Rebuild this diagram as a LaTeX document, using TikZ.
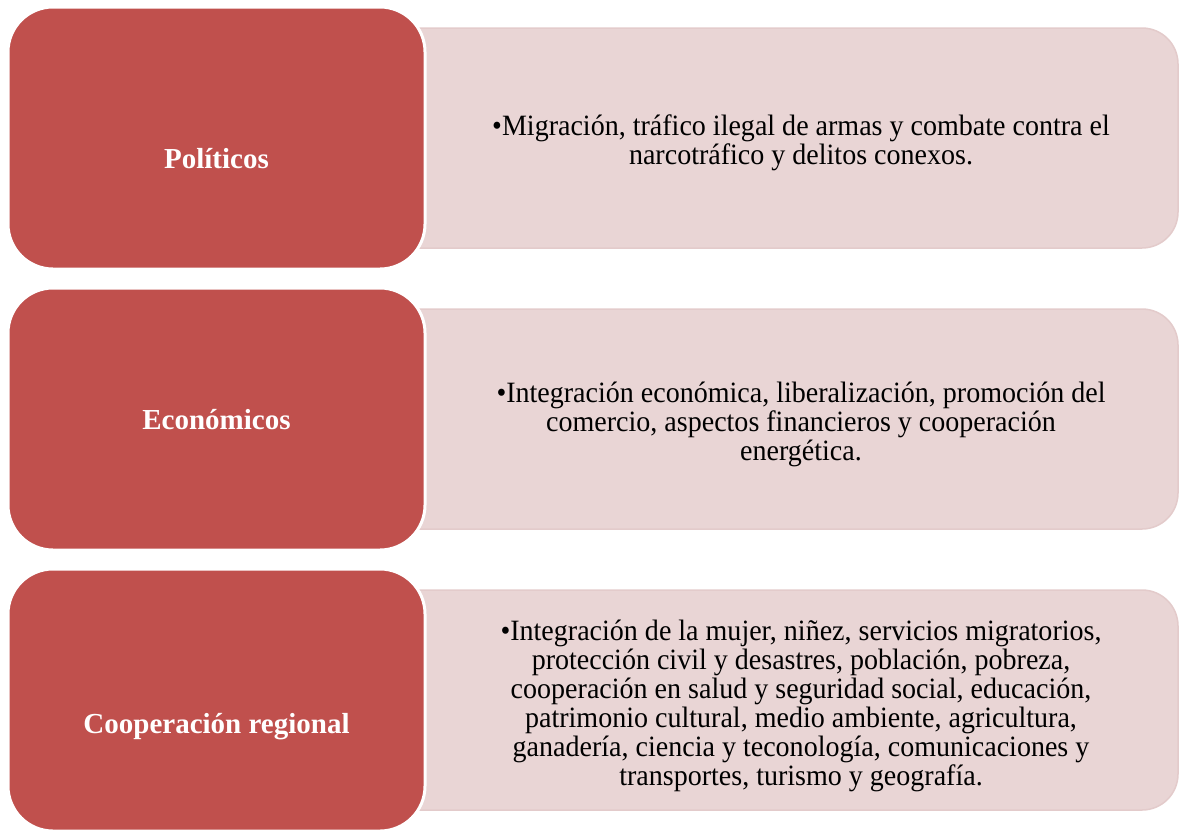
\documentclass[tikz,border=0pt]{standalone}
\usepackage{fontspec}
\setmainfont{Liberation Serif}
\newfontfamily\bodyfont[FakeStretch=0.95]{Liberation Serif}
\definecolor{redcol}{HTML}{C0504D}
\definecolor{pinkfill}{HTML}{E9D5D5}
\definecolor{pinkline}{HTML}{E3CBCB}
\begin{document}
\begin{tikzpicture}[x=1pt,y=-1pt,
  redbox/.style={draw=white, line width=3pt, fill=redcol, rounded corners=45pt,
    minimum width=417pt, minimum height=262pt, inner sep=0pt},
  pinkbox/.style={draw=pinkline, line width=1.5pt, fill=pinkfill, rounded corners=36pt,
    minimum width=878pt, minimum height=220pt, inner sep=0pt},
  titletext/.style={text=white, font=\bfseries\fontsize{29}{33}\selectfont, anchor=base, inner sep=0pt},
  bodytext/.style={text=black, font=\bodyfont\fontsize{29.5}{29}\selectfont, align=center, inner sep=0pt}
]
\useasboundingbox (0,0) rectangle (1180,831);
% row 1
\node[pinkbox] (p1) at (739,138) {};
\node[redbox] (r1) at (216.5,138) {};
\node[titletext] (t1) at (216.5,168) {Políticos};
\node[bodytext] (b1) at (801,143) {•Migración, tráfico ilegal de armas y combate contra el\\narcotráfico y delitos conexos.};
% row 2
\node[pinkbox] (p2) at (739,419) {};
\node[redbox] (r2) at (216.5,419) {};
\node[titletext] (t2) at (216.5,429) {Económicos};
\node[bodytext] (b2) at (801,424) {•Integración económica, liberalización, promoción del\\comercio, aspectos financieros y cooperación\\energética.};
% row 3
\node[pinkbox] (p3) at (739,700) {};
\node[redbox] (r3) at (216.5,700) {};
\node[titletext] (t3) at (216.5,733) {Cooperación regional};
\node[bodytext] (b3) at (801,706) {•Integración de la mujer, niñez, servicios migratorios,\\protección civil y desastres, población, pobreza,\\cooperación en salud y seguridad social, educación,\\patrimonio cultural, medio ambiente, agricultura,\\ganadería, ciencia y teconología, comunicaciones y\\transportes, turismo y geografía.};
\end{tikzpicture}
\end{document}
